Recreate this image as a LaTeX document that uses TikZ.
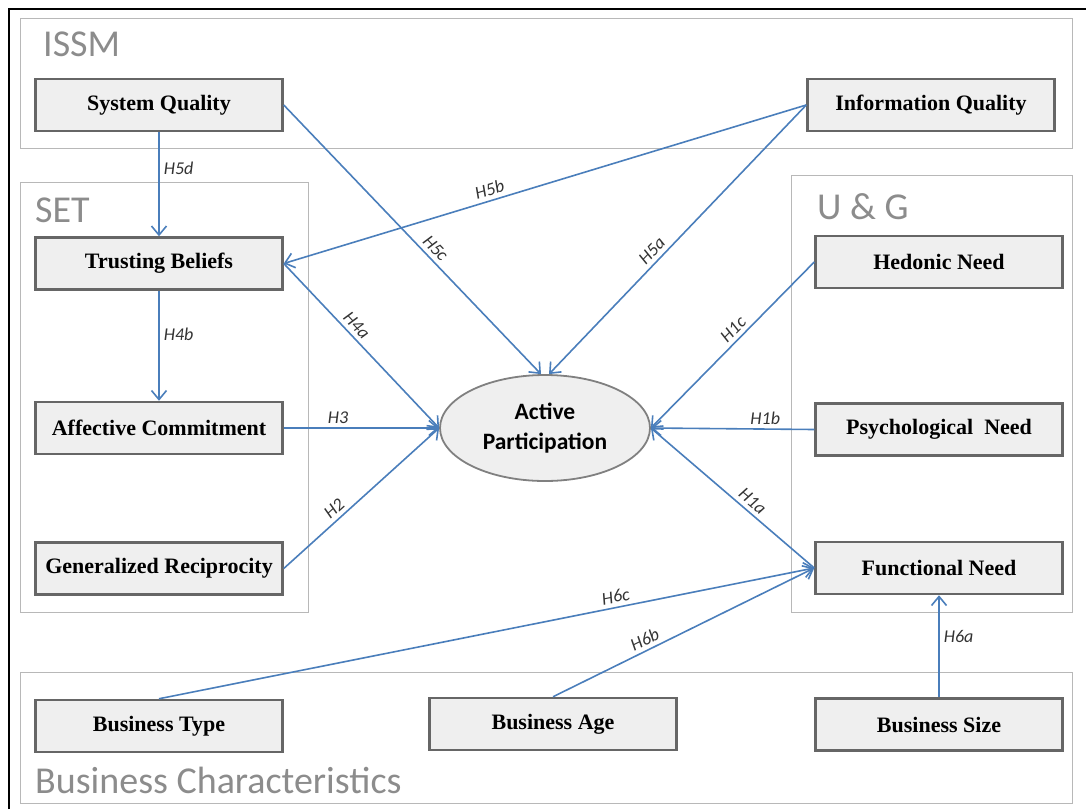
\documentclass[tikz,border=0pt]{standalone}
\usepackage{fontspec}
\setmainfont{Liberation Serif}
\newfontfamily\calib{Carlito}
\usepackage{xcolor}
\usepackage{tikz}
\usetikzlibrary{positioning,arrows.meta,shapes.geometric}
\definecolor{hypblue}{HTML}{4A7EBB}
\definecolor{boxfill}{HTML}{EFEFEF}
\definecolor{boxline}{HTML}{666666}

\begin{document}
\begin{tikzpicture}[
  x=1pt, y=-1pt,
  font=\calib,
  var/.style = {draw=boxline, line width=2.5pt, fill=boxfill, inner sep=0pt,
                minimum width=247pt, minimum height=52pt,
                font=\rmfamily\bfseries\fontsize{22}{26}\selectfont},
  ap/.style  = {ellipse, draw=black!50, line width=1.8pt, fill=boxfill,
                minimum width=210pt, minimum height=106pt, align=center,
                inner sep=0pt, font=\calib\bfseries\fontsize{23.5}{30}\selectfont},
  grp/.style = {draw=black!28, line width=1pt},
  gl/.style  = {anchor=west, inner sep=0pt, text=black!45,
                font=\calib\fontsize{38}{42}\selectfont},
  hyp/.style = {-{Straight Barb[length=9pt,width=15pt]}, draw=hypblue,
                line width=1.6pt},
  lab/.style = {inner sep=4pt, text=black!80,
                font=\calib\itshape\fontsize{18}{20}\selectfont}
]
\useasboundingbox (0,0) rectangle (1086,809);

% ---------- frame and groups -----------------------------------------------
\draw[line width=2pt] (9,809) -- (9,9) -- (1086,9);
\draw[grp] (20,18)  rectangle (1072,148);
\draw[grp] (20,182) rectangle (308,612);
\draw[grp] (791,175) rectangle (1072,612);
\draw[grp] (20,672) rectangle (1072,803);

\node[gl] (gissm) at (43,44)  {ISSM};
\node[gl] (gset)  at (35,210) {SET};
\node[gl] (gug)   at (817,207) {U \& G};
\node[gl] (gbc)   at (35,780) {Business Characteristics};

% ---------- constructs -----------------------------------------------------
\node[var] (sq) at (159,105) {System Quality};
\node[var] (iq) at (931,105) {Information Quality};

\node[var, below=104pt of sq] (tb) {Trusting Beliefs};
\node[var, below=110pt of tb] (ac) {Affective Commitment};
\node[var, below=86pt of ac]  (gr) {Generalized Reciprocity};

\node[var] (hn) at (939,262) {Hedonic Need};
\node[var, below=113pt of hn] (pn) {Psychological\ \ Need};
\node[var, below=84pt of pn]  (fn) {Functional Need};

\node[var, below=103pt of gr] (bt) {Business Type};
\node[var] (ba) at (553,724) {Business Age};
\node[var, below=102pt of fn] (bs) {Business Size};

\node[ap] (ap) at (545,428) {Active\\Participation};

% ---------- hypotheses -----------------------------------------------------
\draw[hyp] (sq) -- node[lab, pos=0.35, right] {H5d} (tb);
\draw[hyp] (tb) -- node[lab, pos=0.4, right] {H4b} (ac);

\draw[hyp] (sq.east) -- node[lab, pos=0.56, above, sloped] {H5c}
  ([xshift=-4pt]ap.north);
\draw[hyp] (iq.west) -- node[lab, pos=0.57, above, sloped] {H5a}
  ([xshift=4pt]ap.north);
\draw[hyp] (iq.west) -- node[lab, pos=0.6, above, sloped] {H5b} (tb.east);

\draw[hyp] (tb.east) -- node[lab, pos=0.42, above, sloped] {H4a} (ap.west);
\draw[hyp] (ac.east) -- node[lab, pos=0.35, above] {H3} (ap.west);
\draw[hyp] (gr.east) -- node[lab, pos=0.37, above, sloped] {H2} (ap.west);

\draw[hyp] (hn.west) -- node[lab, pos=0.45, above, sloped] {H1c} (ap.east);
\draw[hyp] (pn.west) -- node[lab, pos=0.3, above] {H1b} (ap.east);
\draw[hyp] (fn.west) -- node[lab, pos=0.42, above, sloped] {H1a} (ap.east);

\draw[hyp] (bt.north) -- node[lab, pos=0.7, above, sloped] {H6c} (fn.west);
\draw[hyp] (ba.north) -- node[lab, pos=0.37, above, sloped] {H6b} (fn.west);
\draw[hyp] (bs) -- node[lab, pos=0.6, right] {H6a} (fn);

\end{tikzpicture}
\end{document}
